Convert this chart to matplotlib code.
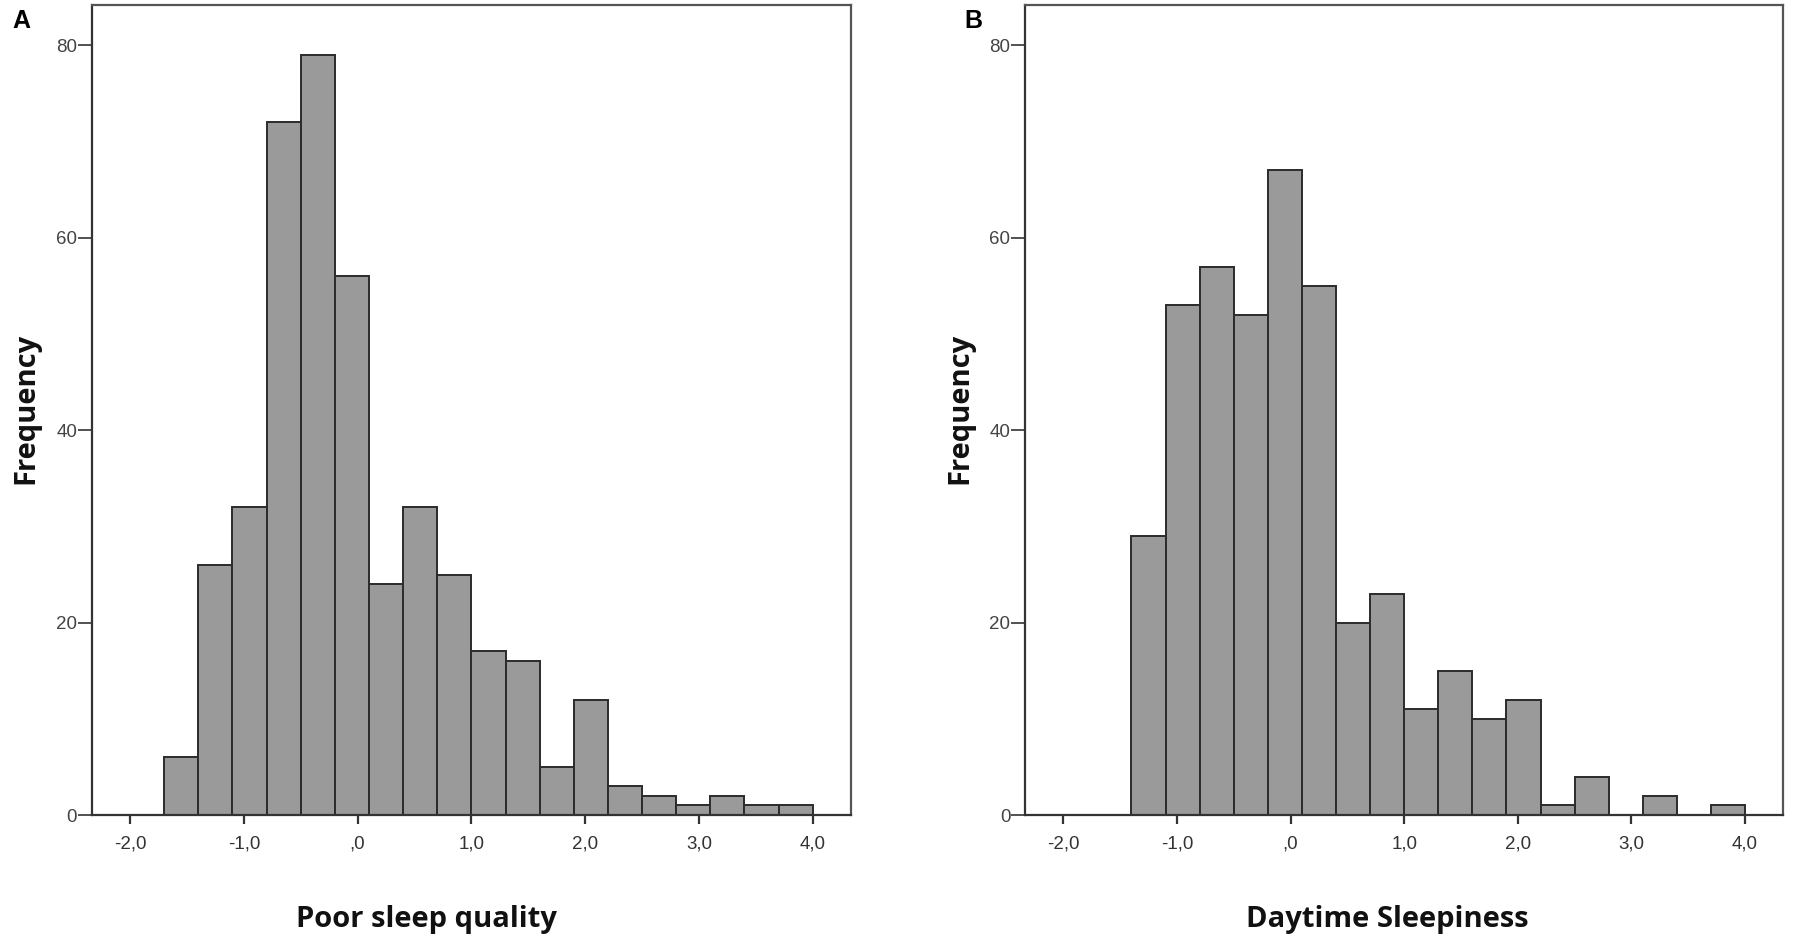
import matplotlib
matplotlib.use("Agg")
import matplotlib.pyplot as plt
import numpy as np

# ---- data ----
a_bin_lefts = [-1.7, -1.4, -1.1, -0.8, -0.5, -0.2, 0.1, 0.4, 0.7, 1.0,
               1.3, 1.6, 1.9, 2.2, 2.5, 2.8, 3.1, 3.4, 3.7]
a_counts = [6, 26, 32, 72, 79, 56, 24, 32, 25, 17, 16, 5, 12, 3, 2, 1, 2, 1, 1]

b_bin_lefts = [-1.4, -1.1, -0.8, -0.5, -0.2, 0.1, 0.4, 0.7, 1.0,
               1.3, 1.6, 1.9, 2.2, 2.5, 2.8, 3.1, 3.4, 3.7]
b_counts = [29, 53, 57, 52, 67, 55, 20, 23, 11, 15, 10, 12, 1, 4, 0, 2, 0, 1]

bin_width = 0.3
x_ticks = [-2.0, -1.0, 0.0, 1.0, 2.0, 3.0, 4.0]
x_tick_labels = ["-2,0", "-1,0", ",0", "1,0", "2,0", "3,0", "4,0"]
y_ticks = [0, 20, 40, 60, 80]
y_tick_labels = ["0", "20", "40", "60", "80"]

xlabels = ["Poor sleep quality", "Daytime Sleepiness"]
ylabel = "Frequency"
panel_letters = ["A", "B"]

# ---- figure ----
W, H = 1800, 941
fig = plt.figure(figsize=(W / 100, H / 100), dpi=100)

bar_face = "#9a9a9a"
bar_edge = "#2b2b2b"
frame_col = "#555555"
tick_col = "#333333"
label_font = ["Open Sans", "DejaVu Sans"]
tick_font = ["Liberation Sans", "DejaVu Sans"]

axes_px = [(91.7, 850.7), (1025, 1783)]
top_px, bottom_px = 5, 815

def draw(ax, lefts, counts):
    ax.bar(lefts, counts, width=bin_width, align="edge",
           color=bar_face, edgecolor=bar_edge, linewidth=1.4, zorder=2)
    ax.set_xlim(-2.337, 4.334)
    ax.set_ylim(0, 84.2)
    ax.set_xticks(x_ticks)
    ax.set_xticklabels(x_tick_labels)
    ax.set_yticks(y_ticks)
    ax.set_yticklabels(y_tick_labels)
    for s in ax.spines.values():
        s.set_color(frame_col)
        s.set_linewidth(1.6)
    ax.spines["left"].set_color("#333333")
    ax.spines["bottom"].set_color("#333333")
    ax.tick_params(axis="x", direction="out", length=6.5, width=1.6,
                   color="#333333", labelsize=13.5, labelcolor=tick_col, pad=8)
    ax.tick_params(axis="y", direction="out", length=10, width=1.2,
                   color="#333333", labelsize=13.5, labelcolor="#444444", pad=0.5)
    for lab in ax.get_xticklabels() + ax.get_yticklabels():
        lab.set_family(tick_font)

datasets = [(a_bin_lefts, a_counts), (b_bin_lefts, b_counts)]
title_x = [426, 1387]
freq_x = [33.5, 967]
letter_x = [12, 964]

for i, ((l, r), (lefts, counts)) in enumerate(zip(axes_px, datasets)):
    ax = fig.add_axes([l / W, 1 - bottom_px / H, (r - l) / W, (bottom_px - top_px) / H])
    draw(ax, lefts, counts)
    fig.text(title_x[i] / W, 1 - 927 / H, xlabels[i], ha="center", va="baseline",
             fontsize=21, fontweight="bold", family=label_font, color="#111111")
    fig.text(freq_x[i] / W, 1 - 408 / H, ylabel, ha="center", va="baseline",
             rotation=90, rotation_mode="anchor",
             fontsize=21, fontweight="bold", family=label_font, color="#111111")
    fig.text(letter_x[i] / W, 1 - 28 / H, panel_letters[i], ha="left", va="baseline",
             fontsize=18, fontweight="bold", family=tick_font, color="#000000")

fig.savefig("out.png", dpi=100, facecolor="white")
